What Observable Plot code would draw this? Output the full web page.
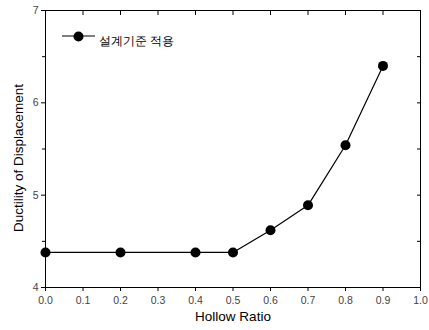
<!DOCTYPE html>
<html><head><meta charset="utf-8">
<script src="https://cdn.jsdelivr.net/npm/d3@7"></script>
<script src="https://cdn.jsdelivr.net/npm/@observablehq/plot@0.6"></script>
<style>body{margin:0;background:#fff}</style>
</head><body><div id="chart"></div>
<script>
const hollowRatio = [0.0, 0.2, 0.4, 0.5, 0.6, 0.7, 0.8, 0.9];
const ductility = [4.38, 4.38, 4.38, 4.38, 4.62, 4.89, 5.54, 6.40];
const seriesName = "설계기준 적용";
const xTicks = [0, 0.1, 0.2, 0.3, 0.4, 0.5, 0.6, 0.7, 0.8, 0.9, 1.0];
const yTicks = [4, 5, 6, 7];
const yMinor = [4.5, 5.5, 6.5];

const data = hollowRatio.map((x, i) => ({x, y: ductility[i]}));
const font = "Liberation Sans, Arial, sans-serif";

const chart = Plot.plot({
  width: 429, height: 330,
  marginLeft: 45, marginRight: 9, marginTop: 10, marginBottom: 43,
  style: {fontFamily: font, background: "#fff"},
  x: {domain: [0, 1]},
  y: {domain: [4, 7]},
  marks: [
    Plot.frame({stroke: "#000", strokeWidth: 1}),
    Plot.axisX({ticks: xTicks, tickFormat: d3.format(".1f"), tickSize: 4, tickPadding: 5, fontSize: 10.5, fill: "#444", color: "#000", label: null}),
    Plot.axisX({anchor: "top", ticks: xTicks, tickSize: -4, tickFormat: () => "", label: null}),
    Plot.axisY({ticks: yTicks, tickFormat: d3.format("d"), tickSize: 4, tickPadding: 3, fontSize: 10.5, fill: "#444", label: null}),
    Plot.axisY({ticks: yMinor, tickSize: 3, tickFormat: () => "", label: null}),
    Plot.axisY({anchor: "right", ticks: yTicks.concat(yMinor), tickSize: -4, tickFormat: () => "", label: null}),
    Plot.text(["Hollow Ratio"], {frameAnchor: "bottom", dy: 33, fontSize: 13.5, fill: "#000"}),
    Plot.text(["Ductility of Displacement"], {frameAnchor: "left", textAnchor: "middle", dx: -27, dy: 9, rotate: -90, fontSize: 13.5, fill: "#000"}),
    Plot.line(data, {x: "x", y: "y", stroke: "#000", strokeWidth: 1.2}),
    Plot.dot(data, {x: "x", y: "y", r: 5, fill: "#000"}),
    Plot.dot([seriesName], {frameAnchor: "top-left", dx: 33, dy: 26, r: 5, fill: "#000"}),
    Plot.text([seriesName], {frameAnchor: "top-left", dx: 53, dy: 26, fontSize: 12, fill: "#000", textAnchor: "start"})
  ]
});
document.getElementById("chart").appendChild(chart);

// legend line segment
const svg = d3.select(chart);
svg.append("line")
  .attr("x1", 45 + 17).attr("x2", 45 + 50)
  .attr("y1", 10 + 26).attr("y2", 10 + 26)
  .attr("stroke", "#000").attr("stroke-width", 1.2);
</script>
</body></html>
